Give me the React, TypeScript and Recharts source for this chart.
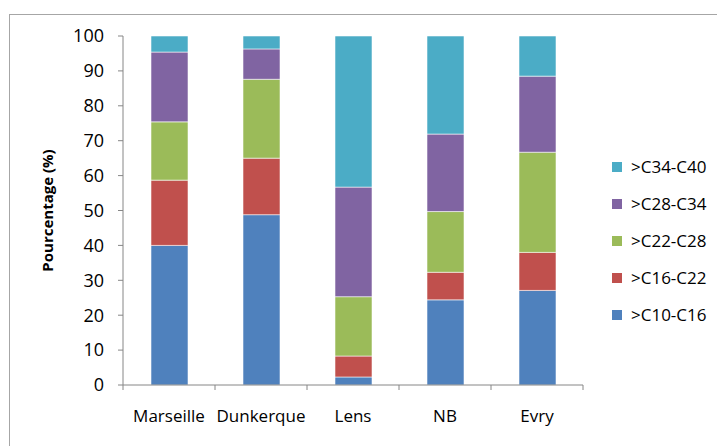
import React from 'react';
import { BarChart, Bar, XAxis, YAxis } from 'recharts';

// catégories et fractions (%)
const CATEGORIES = ['Marseille', 'Dunkerque', 'Lens', 'NB', 'Evry'];
const C10_C16 = [40.0, 48.8, 2.3, 24.4, 27.1];
const C16_C22 = [18.7, 16.2, 6.0, 7.9, 10.9];
const C22_C28 = [16.7, 22.6, 17.0, 17.4, 28.7];
const C28_C34 = [20.0, 8.7, 31.4, 22.2, 21.8];
const C34_C40 = [4.6, 3.7, 43.3, 28.1, 11.5];
const Y_TICKS = [0, 10, 20, 30, 40, 50, 60, 70, 80, 90, 100];

const SERIES = [
  { key: 'c10', name: '>C10-C16', values: C10_C16, color: '#4F81BD' },
  { key: 'c16', name: '>C16-C22', values: C16_C22, color: '#C0504D' },
  { key: 'c22', name: '>C22-C28', values: C22_C28, color: '#9BBB59' },
  { key: 'c28', name: '>C28-C34', values: C28_C34, color: '#8064A2' },
  { key: 'c34', name: '>C34-C40', values: C34_C40, color: '#4BACC6' },
];

const data = CATEGORIES.map((site, i) => {
  const row: any = { site };
  SERIES.forEach((s) => { row[s.key] = s.values[i]; });
  return row;
});

const FONT = '"Open Sans", sans-serif';
const AXIS = '#868686';
const TICK_SIZE = 5;
const TICK_MARGIN = 20;

// graduations entre les catégories (comme Excel)
const CategoryTick = (props: any) => {
  const { x, y, payload, index, visibleTicksCount } = props;
  const half = payload.offset ?? 0;
  const top = y - TICK_SIZE - TICK_MARGIN;
  const last = index === (visibleTicksCount ?? CATEGORIES.length) - 1;
  return (
    <g>
      <line x1={x - half} x2={x - half} y1={top} y2={top + TICK_SIZE} stroke={AXIS} />
      {last && <line x1={x + half} x2={x + half} y1={top} y2={top + TICK_SIZE} stroke={AXIS} />}
      <text x={x} y={y} dy="0.71em" textAnchor="middle" fill="#000" fontSize={17} fontFamily={FONT}>
        {payload.value}
      </text>
    </g>
  );
};

export default function App() {
  return (
    <div style={{ position: 'fixed', left: 0, top: 0, width: 717, height: 446, background: '#fff', overflow: 'hidden' }}>
      <div style={{ position: 'absolute', left: 9, top: 14, right: -2, bottom: -2, borderTop: '1px solid #a6a6a6', borderLeft: '1px solid #a6a6a6' }} />
      <div style={{ position: 'absolute', left: 0, top: 0 }}>
        <BarChart width={717} height={446} data={data} margin={{ top: 36, right: 134, bottom: 21, left: 43 }} barSize={37}>
          <XAxis
            dataKey="site"
            stroke={AXIS}
            tickLine={false}
            tickSize={TICK_SIZE}
            tickMargin={TICK_MARGIN}
            height={40}
            tick={<CategoryTick />}
            interval={0}
          />
          <YAxis
            domain={[0, 100]}
            ticks={Y_TICKS}
            interval={0}
            width={80}
            stroke={AXIS}
            tickSize={5}
            tickMargin={14}
            tick={{ fill: '#000', fontSize: 18, fontFamily: FONT }}
            label={{
              value: 'Pourcentage (%)',
              angle: -90,
              position: 'insideLeft',
              offset: 5,
              style: { textAnchor: 'middle', fontWeight: 'bold', fontSize: 15, fontFamily: FONT, fill: '#000' },
            }}
          />
          {SERIES.map((s) => (
            <Bar
              key={s.key}
              dataKey={s.key}
              name={s.name}
              stackId="a"
              fill={s.color}
              stroke="rgba(255,255,255,0.55)"
              strokeWidth={1}
              isAnimationActive={false}
            />
          ))}
        </BarChart>
      </div>
      <div style={{ position: 'absolute', left: 612, top: 148, fontFamily: FONT, fontSize: 17, color: '#000' }}>
        {[...SERIES].reverse().map((s) => (
          <div key={s.key} style={{ display: 'flex', alignItems: 'center', height: 37 }}>
            <span style={{ width: 10, height: 10, background: s.color, marginRight: 9, display: 'inline-block' }} />
            <span>{s.name}</span>
          </div>
        ))}
      </div>
    </div>
  );
}
